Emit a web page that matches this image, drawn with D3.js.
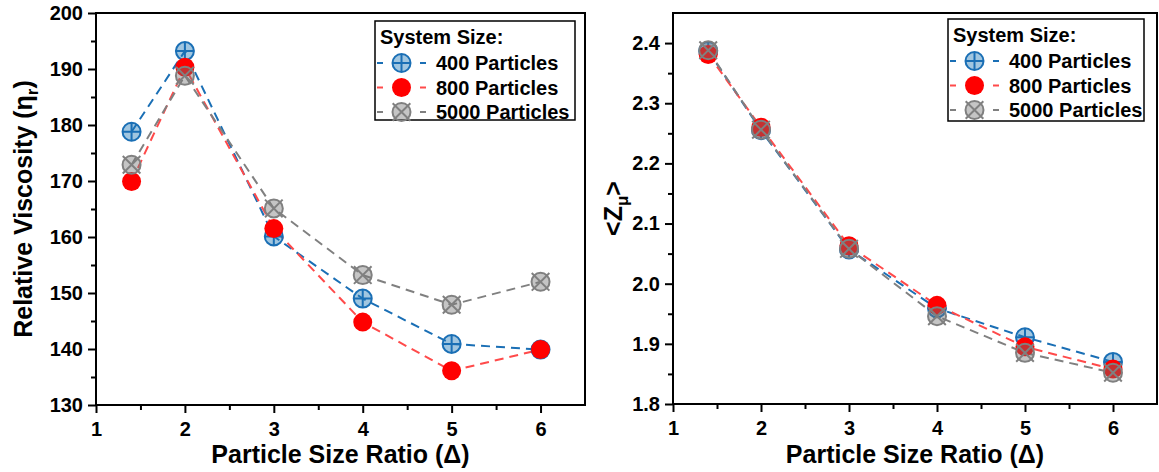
<!DOCTYPE html>
<html>
<head>
<meta charset="utf-8">
<script src="https://cdn.jsdelivr.net/npm/d3@7/dist/d3.min.js"></script>
<style>
    body { margin: 0; background: #fff; }
    svg text { font-family: "Liberation Sans", Arial, sans-serif; font-weight: bold; fill: #000; }
</style>
</head>
<body>
<div id="chart"></div>
<script>
    // particle size ratio (x)
    var ratios = [1.4, 2, 3, 4, 5, 6];
    var seriesNames = ['400 Particles', '800 Particles', '5000 Particles'];

    // left panel: relative viscosity
    var viscosity400 = [178.8, 193.2, 160.1, 149.0, 140.9, 139.9];
    var viscosity800 = [169.9, 190.3, 161.5, 144.8, 136.1, 139.9];
    var viscosity5000 = [172.9, 188.8, 165.1, 153.2, 147.9, 152.0];

    // right panel: mean contact number <Z_mu>
    var contact400 = [2.387, 2.255, 2.057, 1.959, 1.911, 1.870];
    var contact800 = [2.381, 2.260, 2.063, 1.964, 1.895, 1.858];
    var contact5000 = [2.388, 2.256, 2.058, 1.946, 1.885, 1.852];

    var xTicks = [1, 2, 3, 4, 5, 6];
    var xMinor = [1.5, 2.5, 3.5, 4.5, 5.5];
    var viscTicks = [130, 140, 150, 160, 170, 180, 190, 200];
    var viscMinor = [135, 145, 155, 165, 175, 185, 195];
    var zTicks = [1.8, 1.9, 2.0, 2.1, 2.2, 2.3, 2.4];
    var zMinor = [1.85, 1.95, 2.05, 2.15, 2.25, 2.35];

    var styles = [
        {line: '#1a6fb5', stroke: '#1a6fb5', fill: 'rgba(31,119,180,0.42)', mark: 'plus'},
        {line: '#ff4a4a', stroke: 'none', fill: '#ff0000', mark: 'dot'},
        {line: '#808080', stroke: '#808080', fill: 'rgba(116,116,116,0.42)', mark: 'cross'}
    ];

    var W = 1159, H = 472;
    var svg = d3.select('#chart').append('svg')
        .attr('width', W).attr('height', H);
    svg.append('rect').attr('width', W).attr('height', H).attr('fill', '#fff');

    var drawMarker = function (g, style, r) {
        g.append('circle').attr('r', r)
            .attr('fill', style.fill)
            .attr('stroke', style.stroke)
            .attr('stroke-width', style.stroke === 'none' ? 0 : 2);
        if (style.mark === 'plus') {
            g.append('path').attr('d', 'M' + (-r) + ',0H' + r + 'M0,' + (-r) + 'V' + r)
                .attr('stroke', style.stroke).attr('stroke-width', 2);
        } else if (style.mark === 'cross') {
            var k = r * 0.98;
            g.append('path').attr('d', 'M' + (-k) + ',' + (-k) + 'L' + k + ',' + k + 'M' + (-k) + ',' + k + 'L' + k + ',' + (-k))
                .attr('stroke', style.stroke).attr('stroke-width', 2);
        }
    };

    var panel = function (opt) {
        var x = d3.scaleLinear().domain([1, 6.5]).range([opt.left, opt.right]);
        var y = d3.scaleLinear().domain(opt.yDomain).range([opt.bottom, opt.top]);
        var g = svg.append('g');

        // minor ticks
        g.append('g').attr('transform', 'translate(0,' + opt.bottom + ')')
            .call(d3.axisBottom(x).tickValues(xMinor).tickSize(5).tickSizeOuter(0).tickFormat(''));
        g.append('g').attr('transform', 'translate(' + opt.left + ',0)')
            .call(d3.axisLeft(y).tickValues(opt.yMinor).tickSize(5).tickSizeOuter(0).tickFormat(''));

        // major ticks
        var xAxis = g.append('g').attr('transform', 'translate(0,' + opt.bottom + ')')
            .call(d3.axisBottom(x).tickValues(xTicks).tickSize(8).tickSizeOuter(0).tickPadding(9).tickFormat(d3.format('d')));
        var yAxis = g.append('g').attr('transform', 'translate(' + opt.left + ',0)')
            .call(d3.axisLeft(y).tickValues(opt.yTicks).tickSize(8).tickSizeOuter(0).tickPadding(5).tickFormat(opt.yFormat));
        g.selectAll('.tick line').attr('stroke', '#000').attr('stroke-width', 2);
        g.selectAll('.domain').remove();
        g.selectAll('.tick text').attr('font-size', 20).attr('fill', '#000');

        // frame
        g.append('rect')
            .attr('x', opt.left).attr('y', opt.top)
            .attr('width', opt.right - opt.left).attr('height', opt.bottom - opt.top)
            .attr('fill', 'none').attr('stroke', '#000').attr('stroke-width', 2);

        // lines then markers
        opt.series.forEach(function (vals, i) {
            var pts = ratios.map(function (r, j) { return [r, vals[j]]; });
            g.append('path')
                .attr('d', d3.line().x(function (d) { return x(d[0]); }).y(function (d) { return y(d[1]); })(pts))
                .attr('fill', 'none')
                .attr('stroke', styles[i].line)
                .attr('stroke-width', 2)
                .attr('stroke-dasharray', '9,6');
        });
        opt.series.forEach(function (vals, i) {
            ratios.forEach(function (r, j) {
                var m = g.append('g').attr('transform', 'translate(' + x(r) + ',' + y(vals[j]) + ')');
                drawMarker(m, styles[i], i === 1 ? 9.5 : 9);
            });
        });

        // axis titles
        var xt = g.append('text')
            .attr('x', (opt.left + opt.right) / 2).attr('y', 463)
            .attr('text-anchor', 'middle').attr('font-size', 25);
        xt.append('tspan').text('Particle Size Ratio (Δ)');

        var yt = g.append('text')
            .attr('transform', 'translate(' + opt.titleX + ',' + (opt.top + opt.bottom) / 2 + ') rotate(-90)')
            .attr('text-anchor', 'middle').attr('font-size', 25);
        yt.append('tspan').text(opt.yTitle[0]);
        yt.append('tspan').attr('font-size', 17).attr('dy', 6).text(opt.yTitle[1]);
        yt.append('tspan').attr('dy', -6).text(opt.yTitle[2]);

        // legend
        var L = opt.legend;
        var lg = g.append('g').attr('transform', 'translate(' + L.x + ',' + L.y + ')');
        lg.append('rect').attr('width', L.w).attr('height', L.h)
            .attr('fill', '#fff').attr('stroke', '#000').attr('stroke-width', 1.5);
        lg.append('text').attr('x', 5).attr('y', 23).attr('font-size', 20).text('System Size:');
        seriesNames.forEach(function (name, i) {
            var cy = 42 + i * 24.5;
            lg.append('line').attr('x1', 2).attr('x2', 51).attr('y1', cy).attr('y2', cy)
                .attr('stroke', styles[i].line).attr('stroke-width', 2)
                .attr('stroke-dasharray', '6,37');
            var m = lg.append('g').attr('transform', 'translate(26.5,' + cy + ')');
            drawMarker(m, styles[i], i === 1 ? 9.5 : 9);
            lg.append('text').attr('x', 61).attr('y', cy + 7).attr('font-size', 20).text(name);
        });
    };

    panel({
        left: 96, right: 585, top: 13, bottom: 405,
        yDomain: [130, 200], yTicks: viscTicks, yMinor: viscMinor, yFormat: d3.format('d'),
        series: [viscosity400, viscosity800, viscosity5000],
        yTitle: ['Relative Viscosity (η', 'r', ')'], titleX: 32,
        legend: {x: 375, y: 21, w: 200, h: 99}
    });

    panel({
        left: 673, right: 1157, top: 13, bottom: 404,
        yDomain: [1.8, 2.45], yTicks: zTicks, yMinor: zMinor, yFormat: d3.format('.1f'),
        series: [contact400, contact800, contact5000],
        yTitle: ['<Z', 'μ', '>'], titleX: 622,
        legend: {x: 948, y: 19, w: 196, h: 102}
    });
</script>
</body>
</html>
